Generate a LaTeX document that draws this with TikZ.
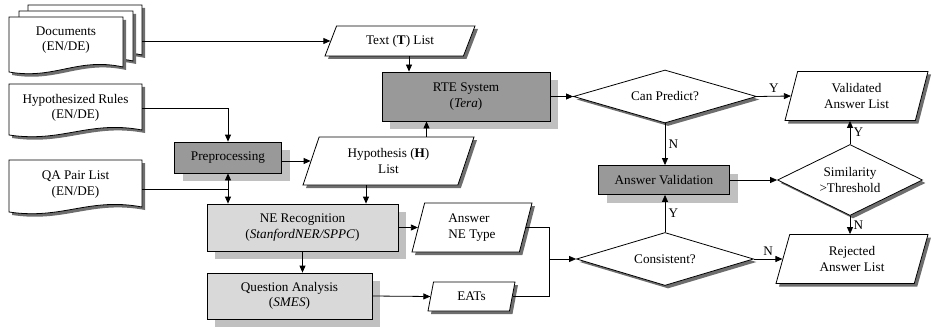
\documentclass[tikz,border=0pt]{standalone}
\usepackage{fontspec}
\setmainfont{Liberation Serif}
\usetikzlibrary{shapes.geometric,shadows,arrows.meta}

\definecolor{boxdark}{HTML}{999999}
\definecolor{boxlight}{HTML}{D9D9D9}
\definecolor{shadelight}{HTML}{C0C0C0}
\definecolor{shadedark}{HTML}{6E6E6E}

% one sheet of a document symbol: left, top, right, bottom line
\newcommand{\docpage}[4]{%
  \begin{scope}[shift={(3,3)}]
    \fill [shadedark] (#1,#2) -- (#3,#2) -- (#3,{#4-2}) .. controls ({#3-0.4*(#3-#1)},{#4-12}) and ({#1+0.4*(#3-#1)},{#4+11}) .. (#1,{#4+3}) -- cycle;
  \end{scope}
  \filldraw [black, fill=white, line width=0.8pt] (#1,#2) -- (#3,#2) -- (#3,{#4-2}) .. controls ({#3-0.4*(#3-#1)},{#4-12}) and ({#1+0.4*(#3-#1)},{#4+11}) .. (#1,{#4+3}) -- cycle;}

\begin{document}
\begin{tikzpicture}[x=1pt, y=-1pt]
        \tikzstyle{every node}+=[font=\fontsize{13.2}{15.5}\selectfont, align=center]
        \tikzstyle{flow}=[black, line width=0.8pt, -{Triangle[length=7pt,width=6pt]}]
        \tikzstyle{plain}=[black, line width=0.8pt]
        \tikzstyle{process}=[rectangle, draw, line width=0.8pt, fill=boxdark, inner sep=0pt,
          drop shadow={shadow xshift=8pt, shadow yshift=-8pt, fill=shadelight, opacity=1}]
        \tikzstyle{subprocess}=[process, fill=boxlight]
        \tikzstyle{datalist}=[trapezium, draw, line width=0.8pt, fill=white, inner sep=0pt,
          trapezium stretches body,
          drop shadow={shadow xshift=3pt, shadow yshift=-3pt, fill=shadedark, opacity=1}]
        \tikzstyle{decision}=[diamond, draw, line width=0.8pt, fill=white, inner sep=0pt, aspect=2.5,
          drop shadow={shadow xshift=3pt, shadow yshift=-3pt, fill=shadedark, opacity=1}]
        \tikzstyle{docbox}=[rectangle, inner sep=0pt]
        \useasboundingbox (0,0) rectangle (932,329);

        % input documents
        \docpage{28}{5}{142}{57}
        \docpage{19}{11}{133}{63}
        \docpage{9}{17}{123}{69}
        \node [docbox] (docs) at (66,40) {Documents\\(EN/DE)};
        \coordinate (docsout) at (142,41);
        \docpage{9}{84}{142}{132}
        \node [docbox, minimum width=133, minimum height=48] (rules) at (75.5,108) {Hypothesized Rules\\(EN/DE)};
        \docpage{9}{160}{142}{209}
        \node [docbox, minimum width=133, minimum height=49] (qapairs) at (75.5,184.5) {QA Pair List\\(EN/DE)};
        \coordinate (qajoin) at (228,189);

        % processing steps
        \node [process, minimum width=107, minimum height=31] (prep) at (228,157.5) {Preprocessing};
        \node [process, minimum width=168, minimum height=49] (rte) at (466,96.5) {RTE System\\(\textit{Tera})};
        \node [subprocess, minimum width=191, minimum height=47] (ner) at (302.5,227.5) {NE Recognition\\(\textit{StanfordNER/SPPC})};
        \node [subprocess, minimum width=165, minimum height=46] (qan) at (289.5,296) {Question Analysis\\(\textit{SMES})};
        \node [process, minimum width=131, minimum height=29] (aval) at (664,180) {Answer Validation};

        % lists
        \node [datalist, trapezium left angle=46, trapezium right angle=134, minimum width=150, minimum height=30] (tlist) at (400,41) {Text (\textbf{T}) List};
        \node [datalist, trapezium left angle=57, trapezium right angle=123, minimum width=171, minimum height=48] (hlist) at (388.5,161) {Hypothesis (\textbf{H})\\List};
        \node [datalist, trapezium left angle=65, trapezium right angle=115, minimum width=120, minimum height=49, align=left] (netype) at (472,227.5) {Answer\\NE Type};
        \node [datalist, trapezium left angle=58, trapezium right angle=122, minimum width=87, minimum height=29] (eats) at (471.5,296.5) {EATs};
        \node [datalist, trapezium left angle=63, trapezium right angle=117, minimum width=143, minimum height=49] (valid) at (856.5,96) {Validated\\Answer List};
        \node [datalist, trapezium left angle=61, trapezium right angle=119, minimum width=152, minimum height=49] (reject) at (852,259) {Rejected\\Answer List};

        % decisions
        \node [decision, minimum width=183, minimum height=53] (canpred) at (665,96.5) {Can Predict?};
        \node [decision, minimum width=145, minimum height=71] (simil) at (850,180) {Similarity\\>Threshold};
        \node [decision, minimum width=177, minimum height=53] (consist) at (665,259) {Consistent?};
        \coordinate (netjoin) at (549,259);

        % connectors
        \draw [flow] (docsout) -- (tlist.west);
        \draw [flow] (rules.east) -| (prep.north);
        \draw [plain] (qapairs.east |- qajoin) -- (qajoin);
        \draw [flow] (qajoin) -- (prep.south);
        \draw [flow] (qajoin) -- (qajoin |- ner.north);
        \draw [flow] (prep.east |- hlist.west) -- (hlist.west);
        \draw [flow] ([xshift=9pt]tlist.south) -- ([xshift=9pt]tlist.south |- rte.north);
        \draw [flow] ([xshift=38pt]hlist.north) -- ([xshift=38pt]hlist.north |- rte.south);
        \draw [flow] ([xshift=-22.5pt]hlist.south) -- ([xshift=-22.5pt]hlist.south |- ner.north);
        \draw [flow] (ner.south) -- (ner.south |- qan.north);
        \draw [flow] (ner.east) -- (netype.west);
        \draw [flow] (qan.east) -- (eats.west);
        \draw [plain] (netype.east) -| (netjoin);
        \draw [plain] (eats.east) -| (netjoin);
        \draw [flow] (netjoin) -- (consist.west);
        \draw [flow] (rte.east) -- (canpred.west);
        \draw [flow] (canpred.east) -- node [above] (ycan) {Y} (valid.west);
        \draw [flow] (canpred.south) -- node [right] (ncan) {N} (canpred.south |- aval.north);
        \draw [flow] (consist.north) -- node [right] (ycons) {Y} (consist.north |- aval.south);
        \draw [flow] (consist.east) -- node [above] (ncons) {N} (consist.east -| reject.west);
        \draw [flow] (aval.east) -- (simil.west);
        \draw [flow] (simil.north) -- node [right] (ysim) {Y} (simil.north |- valid.south);
        \draw [flow] (simil.south) -- node [right] (nsim) {N} (simil.south |- reject.north);
\end{tikzpicture}
\end{document}
